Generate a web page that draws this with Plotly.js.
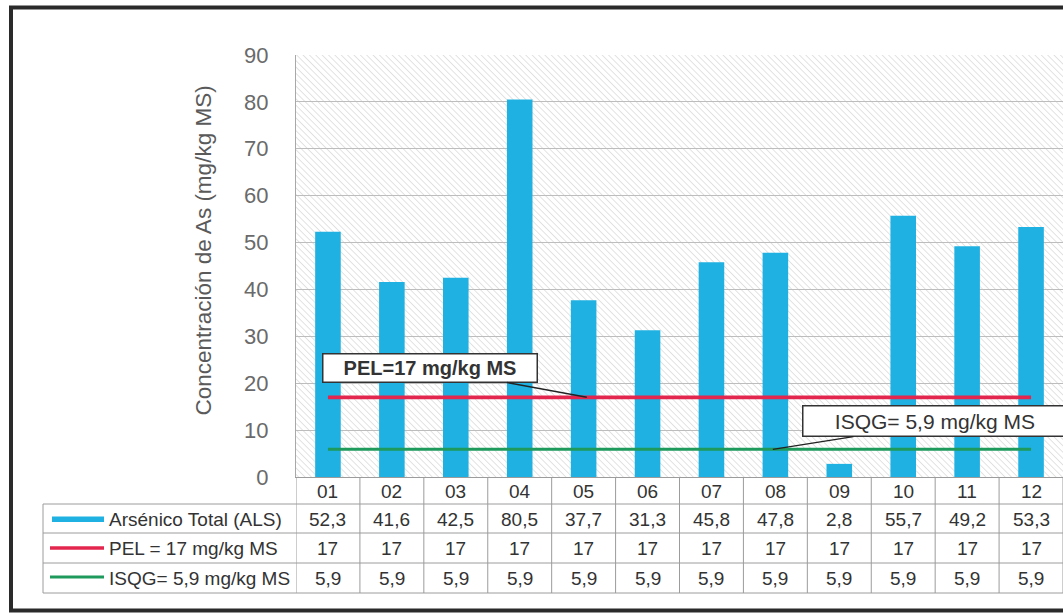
<!DOCTYPE html>
<html><head><meta charset="utf-8">
<script src="https://cdn.plot.ly/plotly-3.0.1.min.js"></script>
<style>html,body{margin:0;padding:0;background:#fff;overflow:hidden}</style>
</head><body><div id="chart" style="width:1063px;height:613px"></div>
<script>
const categories = ['01','02','03','04','05','06','07','08','09','10','11','12'];
const asValues = [52.3, 41.6, 42.5, 80.5, 37.7, 31.3, 45.8, 47.8, 2.8, 55.7, 49.2, 53.3];
const pelValues = [17, 17, 17, 17, 17, 17, 17, 17, 17, 17, 17, 17];
const isqgValues = [5.9, 5.9, 5.9, 5.9, 5.9, 5.9, 5.9, 5.9, 5.9, 5.9, 5.9, 5.9];
const seriesNames = ['Arsénico Total (ALS)', 'PEL = 17 mg/kg MS', 'ISQG= 5,9 mg/kg MS'];
const calloutTexts = ['PEL=17 mg/kg MS', 'ISQG= 5,9 mg/kg MS'];
const yTitle = 'Concentración de As (mg/kg MS)';
const yTicks = [0, 10, 20, 30, 40, 50, 60, 70, 80, 90];

const FONT = 'Arial, "Liberation Sans", sans-serif';
const W = 1063, H = 613, L = 296, R = 1063, T = 55, B = 477;
const X = px => (px - L) / (R - L);
const Y = py => (B - py) / (B - T);
const fmt = v => String(v).replace('.', ',');

const BLUE = '#1FB1E1', RED = '#E3264D', GREEN = '#1E9A5C';
const GRID = '#9c9c9c';

// hatched background
const hw = R - L, hh = B - T;
const svg = `<svg xmlns="http://www.w3.org/2000/svg" width="${hw}" height="${hh}" viewBox="0 0 ${hw} ${hh}" preserveAspectRatio="none"><defs><pattern id="p" width="4.5" height="4.5" patternUnits="userSpaceOnUse" patternTransform="rotate(-45)"><line x1="0" y1="0" x2="0" y2="4.5" stroke="#c2c2c2" stroke-width="0.9"/></pattern></defs><rect width="100%" height="100%" fill="url(#p)"/></svg>`;
const hatchSrc = 'data:image/svg+xml;charset=utf-8,' + encodeURIComponent(svg);

const traces = [
  {type: 'bar', x: categories, y: asValues, name: seriesNames[0],
   marker: {color: BLUE, line: {width: 0}}, hoverinfo: 'skip'},
  {type: 'scatter', mode: 'lines', x: categories, y: pelValues, name: seriesNames[1],
   line: {color: RED, width: 3.8}, hoverinfo: 'skip'},
  {type: 'scatter', mode: 'lines', x: categories, y: isqgValues, name: seriesNames[2],
   line: {color: GREEN, width: 3}, hoverinfo: 'skip'}
];

const shapes = [];
const annotations = [];

// outer frame
shapes.push({type: 'rect', xref: 'paper', yref: 'paper', x0: X(11), x1: X(1080), y0: Y(7.5), y1: Y(610.5),
  line: {color: '#2a2a2a', width: 4}, fillcolor: 'rgba(0,0,0,0)', layer: 'above'});

// table horizontal lines
[504, 533, 563, 593].forEach(py => {
  shapes.push({type: 'line', xref: 'paper', yref: 'paper', x0: X(43), x1: 1, y0: Y(py), y1: Y(py),
    line: {color: GRID, width: 1}});
});
// table left border
shapes.push({type: 'line', xref: 'paper', yref: 'paper', x0: X(43), x1: X(43), y0: Y(504), y1: Y(593),
  line: {color: GRID, width: 1}});
// column separators
for (let i = 0; i <= categories.length; i++) {
  shapes.push({type: 'line', xref: 'x', yref: 'paper', x0: i - 0.5, x1: i - 0.5, y0: Y(477), y1: Y(593),
    line: {color: GRID, width: 1}});
}

// legend swatches
shapes.push({type: 'rect', xref: 'paper', yref: 'paper', x0: X(52), x1: X(104), y0: Y(522), y1: Y(516.5),
  line: {width: 0}, fillcolor: BLUE});
shapes.push({type: 'line', xref: 'paper', yref: 'paper', x0: X(50), x1: X(104), y0: Y(548), y1: Y(548),
  line: {color: RED, width: 3.5}});
shapes.push({type: 'line', xref: 'paper', yref: 'paper', x0: X(50), x1: X(104), y0: Y(577), y1: Y(577),
  line: {color: GREEN, width: 3}});

const cellFont = {family: FONT, size: 19, color: '#333'};
const rowY = [Y(491), Y(519), Y(548), Y(578)];
categories.forEach((c, i) => {
  const rows = [c, fmt(asValues[i]), fmt(pelValues[i]), fmt(isqgValues[i])];
  rows.forEach((t, r) => {
    annotations.push({xref: 'x', yref: 'paper', x: i, y: rowY[r], text: t, showarrow: false,
      xanchor: 'center', yanchor: 'middle', font: cellFont});
  });
});
seriesNames.forEach((n, k) => {
  annotations.push({xref: 'paper', yref: 'paper', x: X(107), y: rowY[k + 1], text: n, showarrow: false,
    xanchor: 'left', yanchor: 'middle', font: cellFont});
});

// y-axis title
annotations.push({xref: 'paper', yref: 'paper', x: X(203), y: Y(250.5), text: yTitle, textangle: -90,
  showarrow: false, xanchor: 'center', yanchor: 'middle', font: {family: FONT, size: 22.5, color: '#5a5a5a'}});

// callouts
annotations.push({xref: 'x', yref: 'y', x: 4.05, y: pelValues[4], ax: -157, ay: -29, axref: 'pixel', ayref: 'pixel',
  text: '<b>' + calloutTexts[0] + '</b>', showarrow: true, arrowhead: 0, arrowwidth: 1.4, arrowcolor: '#222',
  bgcolor: '#fff', bordercolor: '#333', borderwidth: 1.5, width: 211, height: 25, borderpad: 1,
  font: {family: FONT, size: 20, color: '#333'}});
annotations.push({xref: 'x', yref: 'y', x: 6.96, y: isqgValues[7], ax: 177, ay: -28, axref: 'pixel', ayref: 'pixel',
  text: calloutTexts[1] + '&nbsp;&nbsp;&nbsp;&nbsp;&nbsp;', showarrow: true, arrowhead: 0, arrowwidth: 1.4, arrowcolor: '#222',
  bgcolor: '#fff', bordercolor: '#333', borderwidth: 1.5, width: 290, height: 27, borderpad: 1,
  font: {family: FONT, size: 21, color: '#333'}});

const layout = {
  width: W, height: H,
  margin: {l: L, r: W - R, t: T, b: H - B, pad: 0},
  paper_bgcolor: '#fff', plot_bgcolor: '#fff',
  showlegend: false, bargap: 0.6,
  font: {family: FONT},
  xaxis: {type: 'category', showticklabels: false, ticks: '', showgrid: false, showline: true,
    linecolor: GRID, linewidth: 1, zeroline: false, fixedrange: true, range: [-0.5, 11.5]},
  yaxis: {range: [0, 90], tickvals: yTicks, ticktext: yTicks.map(String), showgrid: true, gridcolor: '#bdbdbd', gridwidth: 1,
    showline: true, linecolor: '#a8a8a8', linewidth: 1, ticks: '', zeroline: false, fixedrange: true,
    ticklabelstandoff: 22, tickfont: {family: FONT, size: 22, color: '#6a6a6a'}},
  images: [{source: hatchSrc, xref: 'paper', yref: 'paper', x: 0, y: 1, sizex: 1, sizey: 1,
    sizing: 'stretch', xanchor: 'left', yanchor: 'top', layer: 'below'}],
  shapes: shapes,
  annotations: annotations
};

Plotly.newPlot('chart', traces, layout, {displayModeBar: false, staticPlot: true});
</script>
</body></html>
